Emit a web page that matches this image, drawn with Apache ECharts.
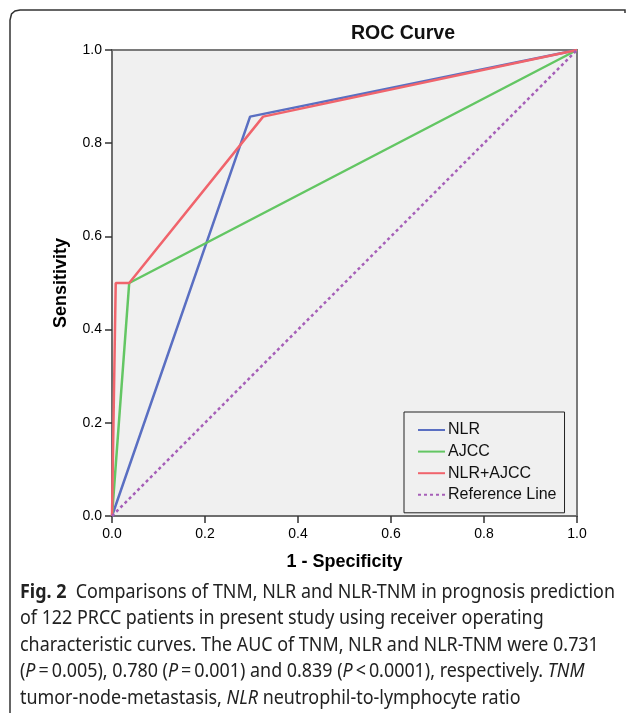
<!DOCTYPE html>
<html>
<head>
<meta charset="utf-8">
<script src="https://cdn.jsdelivr.net/npm/echarts@6/dist/echarts.min.js"></script>
<style>
html,body{margin:0;padding:0;background:#fff;}
#c{width:627px;height:713px;}
</style>
</head>
<body>
<div id="c"></div>
<script>
// ---- data ----
const seriesNames = ['NLR', 'AJCC', 'NLR+AJCC', 'Reference Line'];
const nlrX = [0, 0.297, 1];
const nlrY = [0, 0.857, 1];
const ajccX = [0, 0.037, 1];
const ajccY = [0, 0.5, 1];
const comboX = [0, 0.008, 0.037, 0.325, 1];
const comboY = [0, 0.5, 0.5, 0.857, 1];
const refX = [0, 1];
const refY = [0, 1];
const tickLabels = ['0.0', '0.2', '0.4', '0.6', '0.8', '1.0'];
const titleText = 'ROC Curve';
const xName = '1 - Specificity';
const yName = 'Sensitivity';
const captionBold = 'Fig. 2';
const captionLines = [
  '{b|Fig. 2}  Comparisons of TNM, NLR and NLR-TNM in prognosis prediction',
  'of 122 PRCC patients in present study using receiver operating',
  'characteristic curves. The AUC of TNM, NLR and NLR-TNM were 0.731',
  '({i|P}\u2009=\u20090.005), 0.780 ({i|P}\u2009=\u20090.001) and 0.839 ({i|P}\u2009<\u20090.0001), respectively. {i|TNM}',
  'tumor-node-metastasis, {i|NLR} neutrophil-to-lymphocyte ratio'
];
const captionRest1 = '  Comparisons of TNM, NLR and NLR-TNM in prognosis prediction';

const pairs = (xs, ys) => xs.map((x, i) => [x, ys[i]]);
const colors = ['#5a6fc2', '#63c663', '#f0646c', '#a65fb8'];
const capFamily = '"Noto Sans", sans-serif';
const capSize = 19.5;

// measure caption line 1 to fit the reference's text width
const mctx = document.createElement('canvas').getContext('2d');
mctx.font = 'bold ' + capSize + 'px ' + capFamily;
let w1 = mctx.measureText(captionBold).width;
mctx.font = capSize + 'px ' + capFamily;
w1 += mctx.measureText(captionRest1).width;
const capScale = 595 / w1;

const chart = echarts.init(document.getElementById('c'), null, {renderer: 'canvas'});
const axFont = 'Liberation Sans, Arial, sans-serif';

const axisCommon = {
  type: 'value', min: 0, max: 1, interval: 0.2,
  splitLine: {show: false},
  axisLine: {show: true, onZero: false, lineStyle: {color: '#6e6e6e', width: 2}},
  axisTick: {show: true, inside: false, length: 7, lineStyle: {color: '#333', width: 1.5}},
  axisLabel: {
    color: '#000', fontSize: 14, fontFamily: axFont,
    formatter: (v) => tickLabels[Math.round(v / 0.2)]
  },
  nameLocation: 'middle',
  nameTextStyle: {color: '#000', fontSize: 18, fontWeight: 'bold', fontFamily: axFont}
};

const line = (name, data, color, dotted) => ({
  name, type: 'line', data, symbol: 'none', smooth: false,
  lineStyle: {color, width: 2.5, type: dotted ? [3, 3] : 'solid'},
  itemStyle: {color},
  animation: false
});

const option = {
  backgroundColor: '#fff',
  animation: false,
  title: {
    text: titleText, left: 351, top: 24, padding: 0,
    textStyle: {fontSize: 19.5, fontWeight: 'bold', color: '#111', fontFamily: axFont}
  },
  grid: {
    left: 112, right: 50, top: 50, bottom: 197,
    show: true, backgroundColor: '#f0f0f0', borderColor: '#7a7a7a', borderWidth: 2
  },
  xAxis: Object.assign({}, axisCommon, {
    name: xName, nameGap: 37,
    axisLabel: Object.assign({}, axisCommon.axisLabel, {margin: 11})
  }),
  yAxis: Object.assign({}, axisCommon, {
    name: yName, nameGap: 42,
    axisLabel: Object.assign({}, axisCommon.axisLabel, {margin: 10})
  }),
  legend: {
    data: seriesNames, orient: 'vertical', left: 404, top: 412,
    padding: [10, 8, 10, 13], itemWidth: 27, itemHeight: 14, itemGap: 5.6,
    backgroundColor: '#f0f0f0', borderColor: '#222', borderWidth: 1,
    itemStyle: {color: 'rgba(0,0,0,0)', borderColor: 'rgba(0,0,0,0)', borderWidth: 0},
    textStyle: {fontSize: 16, color: '#111', fontFamily: axFont, padding: [0, 0, 0, -2]},
    selectedMode: false
  },
  series: [
    line(seriesNames[0], pairs(nlrX, nlrY), colors[0], false),
    line(seriesNames[1], pairs(ajccX, ajccY), colors[1], false),
    line(seriesNames[2], pairs(comboX, comboY), colors[2], false),
    line(seriesNames[3], pairs(refX, refY), colors[3], true)
  ],
  graphic: [
    {
      type: 'polyline', silent: true,
      shape: {points: [[10, 713], [10, 20], [11.5, 14], [15, 11], [20, 10], [625, 10], [625, 13]]},
      style: {stroke: '#333', lineWidth: 1.5, fill: null}
    }
  ].concat(captionLines.map((t, i) => ({
    type: 'text', x: 20, y: 582 + i * 26.6, silent: true,
    scaleX: capScale, originX: 0,
    style: {
      text: t, fill: '#222', fontSize: capSize, fontFamily: capFamily,
      rich: {
        b: {fontWeight: 'bold', fontSize: capSize, fontFamily: capFamily, fill: '#222'},
        i: {fontStyle: 'italic', fontSize: capSize, fontFamily: capFamily, fill: '#222'}
      }
    }
  })))
};

chart.setOption(option);
</script>
</body>
</html>
